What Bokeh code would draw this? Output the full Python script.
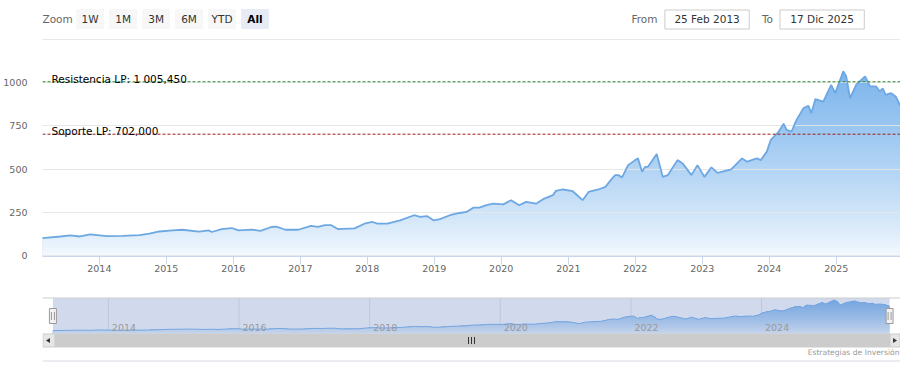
import numpy as np
import pandas as pd
from bokeh.plotting import figure
from bokeh.layouts import column
from bokeh.models import Range1d, FixedTicker, DatetimeTickFormatter, Span, Label, ColumnDataSource
from bokeh.embed import file_html
from bokeh.resources import INLINE
from bokeh.core.properties import value

# ---------------- data ----------------
dates = ["2013-02-25", "2013-06-03", "2013-07-26", "2013-09-18", "2013-11-11", "2014-02-11", "2014-05-08",
         "2014-08-08", "2014-10-01", "2014-11-24", "2015-02-03", "2015-03-29", "2015-06-28", "2015-08-21",
         "2015-09-06", "2015-10-30", "2015-12-23", "2016-01-30", "2016-04-10", "2016-05-28", "2016-07-27",
         "2016-08-23", "2016-10-11", "2016-12-20", "2017-02-28", "2017-04-07", "2017-05-15", "2017-06-16",
         "2017-07-24", "2017-10-24", "2017-12-16", "2018-01-29", "2018-02-25", "2018-04-20", "2018-06-29",
         "2018-09-13", "2018-10-15", "2018-11-22", "2018-12-30", "2019-02-01", "2019-03-27", "2019-05-19",
         "2019-06-26", "2019-08-03", "2019-09-04", "2019-10-12", "2019-11-19", "2020-01-12", "2020-02-24",
         "2020-04-08", "2020-05-16", "2020-07-09", "2020-08-16", "2020-10-09", "2020-10-25", "2020-12-01",
         "2021-01-25", "2021-03-20", "2021-04-21", "2021-06-14", "2021-07-22", "2021-08-28", "2021-09-13",
         "2021-09-30", "2021-10-21", "2021-11-23", "2021-12-31", "2022-01-16", "2022-02-07", "2022-02-23",
         "2022-03-11", "2022-04-28", "2022-05-31", "2022-06-27", "2022-08-19", "2022-09-16", "2022-11-03",
         "2022-12-06", "2023-01-13", "2023-02-20", "2023-03-25", "2023-06-08", "2023-08-06", "2023-09-03",
         "2023-10-26", "2023-11-16", "2023-12-19", "2024-01-10", "2024-02-22", "2024-03-20", "2024-04-05",
         "2024-05-02", "2024-05-29", "2024-07-06", "2024-08-02", "2024-08-18", "2024-09-09", "2024-10-22",
         "2024-12-04", "2024-12-26", "2025-02-08", "2025-02-24", "2025-03-17", "2025-04-19", "2025-06-07",
         "2025-07-04", "2025-08-05", "2025-08-26", "2025-09-11", "2025-09-27", "2025-10-25", "2025-11-21",
         "2025-12-17"]
values = [100, 110, 116, 110, 122, 112, 113,
          118, 126, 139, 145, 149, 138, 145,
          136, 153, 159, 145, 150, 142, 165,
          167, 149, 149, 172, 165, 176, 176,
          153, 157, 184, 194, 184, 184, 203,
          233, 223, 228, 203, 211, 233, 246,
          252, 277, 277, 291, 300, 296, 320,
          291, 310, 300, 326, 349, 374, 382,
          372, 320, 368, 382, 397, 446, 465,
          465, 452, 523, 552, 562, 484, 513,
          513, 587, 455, 465, 552, 533, 465,
          523, 455, 510, 478, 498, 562, 543,
          562, 552, 601, 669, 717, 762, 727,
          717, 785, 853, 866, 824, 905, 891,
          988, 940, 1066, 1037, 911, 988, 1037,
          979, 979, 950, 967, 930, 940, 920,
          865]

year_ticks = [2014, 2015, 2016, 2017, 2018, 2019, 2020, 2021, 2022, 2023, 2024, 2025]
nav_year_ticks = [2014, 2016, 2018, 2020, 2022, 2024]
y_label_ticks = [0, 250, 500, 750, 1000]
y_grid_ticks = [0, 250, 500, 750, 1000, 1250]

resistance = 1005.45
support = 702.0
resistance_label = "Resistencia LP: 1 005,450"
support_label = "Soporte LP: 702,000"

zoom_buttons = ["1W", "1M", "3M", "6M", "YTD", "All"]
selected_button = "All"
from_text = "25 Feb 2013"
to_text = "17 Dic 2025"
credits_text = "Estrategias de Inversión"

# ---------------- helpers ----------------
FONT = "DejaVu Sans"
EPOCH = pd.Timestamp("1970-01-01")


def to_ms(seq):
    t = pd.to_datetime(list(seq))
    return np.array([(x - EPOCH) / pd.Timedelta(milliseconds=1) for x in t], dtype=float)


ms = to_ms(dates)
vals = np.array(values, dtype=float)
xt = list(to_ms([f"{y}-01-01" for y in year_ticks]))
nxt = to_ms([f"{y}-01-01" for y in nav_year_ticks])
x0, x1 = ms[0], ms[-1]
vmax = vals.max()

TOP = np.array([124, 181, 236])
BOT = np.array([246, 250, 254])


def band_color(frac):
    t = frac ** 0.8
    c = BOT + (TOP - BOT) * t
    return "#%02x%02x%02x" % tuple(int(round(v)) for v in c)


W = 900
FL, FR = 43, 908   # frame left / right in page pixels (all figures aligned)
BL = FL - 8

# ---------------- header (range selector) ----------------
HH = 38
h = figure(width=W, height=HH, x_range=Range1d(FL, FR), y_range=Range1d(HH, 0),
           x_axis_location=None, y_axis_location=None, min_border_left=BL, min_border_right=0,
           min_border_top=0, min_border_bottom=0,
           outline_line_color=None, toolbar_location=None, output_backend="svg")
h.grid.visible = False

h.text(x=[43], y=[18.5], text=["Zoom"], text_font=value(FONT), text_font_size="10.5px",
       text_color="#666666", text_align="left", text_baseline="middle")
btn_left = [77 + i * 33.25 for i in range(len(zoom_buttons))]
btn_src = ColumnDataSource(dict(
    left=btn_left,
    right=[b + 28 for b in btn_left],
    cx=[b + 14 for b in btn_left],
    label=zoom_buttons,
    fill=["#e6ebf5" if b == selected_button else "#f7f7f7" for b in zoom_buttons],
    style=["bold" if b == selected_button else "normal" for b in zoom_buttons],
    tcolor=["#000000" if b == selected_button else "#333333" for b in zoom_buttons],
))
h.quad(left="left", right="right", top=8.5, bottom=28.5, fill_color="fill", line_color=None, source=btn_src)
h.text(x="cx", y=18.5, text="label", source=btn_src, text_font=value(FONT), text_font_size="10.5px",
       text_font_style="style", text_color="tcolor", text_align="center", text_baseline="middle")

h.text(x=[663, 779.5], y=[18.5, 18.5], text=["From", "To"], text_font=value(FONT), text_font_size="10.5px",
       text_color="#666666", text_align="right", text_baseline="middle")
h.quad(left=[670.5, 786.5], right=[755.5, 871.5], top=9.5, bottom=28.5, fill_color="white",
       line_color="#cccccc", line_width=1)
h.text(x=[713, 829], y=[18.5, 18.5], text=[from_text, to_text], text_font=value(FONT), text_font_size="10.5px",
       text_color="#333333", text_align="center", text_baseline="middle")

# ---------------- main chart ----------------
p = figure(width=W, height=252, x_axis_type="datetime", x_range=Range1d(x0, x1),
           y_range=Range1d(-5.8, 1255.8), output_backend="svg", toolbar_location=None,
           min_border_left=BL, min_border_right=0, min_border_top=0, min_border_bottom=34,
           outline_line_color=None)

nb = 110
for k in range(nb):
    hi = vmax * (nb - k) / nb
    p.varea(x=ms, y1=0, y2=np.minimum(vals, hi), fill_color=band_color(hi / vmax), fill_alpha=1.0)

ln = p.line(ms, vals, line_color="#6ea8e2", line_width=1.8)
ln.level = "annotation"

p.xgrid.visible = False
p.ygrid.ticker = FixedTicker(ticks=y_grid_ticks)
p.ygrid.grid_line_color = "#e6e6e6"
p.ygrid.grid_line_alpha = 0.9
p.ygrid.level = "guide"

p.xaxis.ticker = FixedTicker(ticks=xt)
p.xaxis.formatter = DatetimeTickFormatter(years="%Y", months="%Y", days="%Y")
p.xaxis.axis_line_color = "#ccd6eb"
p.xaxis.major_tick_line_color = "#ccd6eb"
p.xaxis.major_tick_out = 8
p.xaxis.major_tick_in = 0
p.xaxis.minor_tick_line_color = None
p.xaxis.major_label_standoff = 0
p.xaxis.major_label_text_font = FONT
p.xaxis.major_label_text_font_size = "9.5px"
p.xaxis.major_label_text_color = "#666666"

p.yaxis.ticker = FixedTicker(ticks=y_label_ticks)
p.yaxis.axis_line_color = None
p.yaxis.major_tick_line_color = None
p.yaxis.minor_tick_line_color = None
p.yaxis.major_label_standoff = 9
p.yaxis.major_label_text_font = FONT
p.yaxis.major_label_text_font_size = "9.5px"
p.yaxis.major_label_text_color = "#666666"

p.add_layout(Span(location=resistance, dimension="width", line_color="#2f8a2f", line_dash="3 2", line_width=1))
p.add_layout(Span(location=support, dimension="width", line_color="#9a1c1c", line_dash="3 2", line_width=1))
for txt, loc in [(resistance_label, resistance), (support_label, support)]:
    p.add_layout(Label(x=x0, y=loc, x_offset=9, y_offset=3, text=txt, text_font=FONT,
                       text_font_size="10.5px", text_color="#000000", text_baseline="alphabetic"))

# ---------------- navigator + scrollbar ----------------
NH = 72
PAGE_TOP = 290
nav_l, nav_r = 53.5, 897.0
nav_top, nav_bot = 297.5, 333.3
ser_top = 299.5
scale = (nav_r - nav_l) / (x1 - x0)
nx_start = x0 - (nav_l - FL) / scale
nx_end = x1 + (FR - nav_r) / scale
ppu = (nav_bot - ser_top) / vmax
ny_start = -(PAGE_TOP + NH - nav_bot) / ppu
ny_end = vmax + (ser_top - PAGE_TOP) / ppu

n = figure(width=W, height=NH, x_range=Range1d(nx_start, nx_end), y_range=Range1d(ny_start, ny_end),
           x_axis_location=None, y_axis_location=None, min_border_left=BL, min_border_right=0,
           min_border_top=0, min_border_bottom=0, outline_line_color=None,
           toolbar_location=None, output_backend="svg")
n.grid.visible = False
n.extra_x_ranges = {"px": Range1d(FL, FR)}
n.extra_y_ranges = {"py": Range1d(PAGE_TOP + NH, PAGE_TOP)}

n.segment(x0=nxt, x1=nxt, y0=nav_top, y1=nav_bot, y_range_name="py", line_color="#e6e6e6", line_width=1)
nb2 = 36
for k in range(nb2):
    hi = vmax * (nb2 - k) / nb2
    n.varea(x=ms, y1=0, y2=np.minimum(vals, hi), fill_color=band_color(hi / vmax), fill_alpha=1.0)
n.line(ms, vals, line_color="#7cb5ec", line_width=1)
n.quad(left=[x0], right=[x1], top=nav_top, bottom=nav_bot, y_range_name="py",
       fill_color="#6685c2", fill_alpha=0.3, line_color=None)
n.text(x=nxt, y=327, text=[str(y) for y in nav_year_ticks], y_range_name="py", x_offset=3.5,
       text_font=value(FONT), text_font_size="9.5px", text_color="#999999",
       text_align="left", text_baseline="middle")
n.segment(x0=[43], x1=[908], y0=[nav_top], y1=[nav_top], x_range_name="px", y_range_name="py",
          line_color="#cccccc", line_width=1)

# scrollbar
n.quad(left=[55.5], right=[897.5], top=333.5, bottom=346.5, x_range_name="px", y_range_name="py",
       fill_color="#cccccc", line_color="#cccccc")
n.quad(left=[43.5, 897.5], right=[55.5, 907.5], top=333.5, bottom=346.5, x_range_name="px", y_range_name="py",
       fill_color="#e6e6e6", line_color="#cccccc")
n.patches(xs=[[50.5, 50.5, 46.5], [900.5, 900.5, 904.5]], ys=[[337.5, 342.5, 340], [337.5, 342.5, 340]],
          x_range_name="px", y_range_name="py", fill_color="#333333", line_color=None)
grip_x = [472.5, 475.5, 478.5]
n.segment(x0=grip_x, x1=grip_x, y0=336.5, y1=343.5, x_range_name="px", y_range_name="py",
          line_color="#333333", line_width=1)

# handles
n.rect(x=[x0, x1], y=[315.5, 315.5], width=7, height=15, width_units="screen", height_units="screen",
       y_range_name="py", fill_color="#f2f2f2", line_color="#999999", line_width=1)
hx = [nav_l - 1.5, nav_l + 1.5, nav_r - 1.5, nav_r + 1.5]
n.segment(x0=hx, x1=hx, y0=311.5, y1=319.5, x_range_name="px", y_range_name="py",
          line_color="#999999", line_width=1)

# bottom line + credits
n.segment(x0=[FL], x1=[FR], y0=[360.5], y1=[360.5], x_range_name="px", y_range_name="py",
          line_color="#d5d9e3", line_width=1)
n.text(x=[907], y=[352], text=[credits_text], x_range_name="px", y_range_name="py",
       text_font=value(FONT), text_font_size="7.6px", text_color="#999999",
       text_align="right", text_baseline="middle")

layout = column(h, p, n)
open("out.html", "w").write(file_html(layout, INLINE))
